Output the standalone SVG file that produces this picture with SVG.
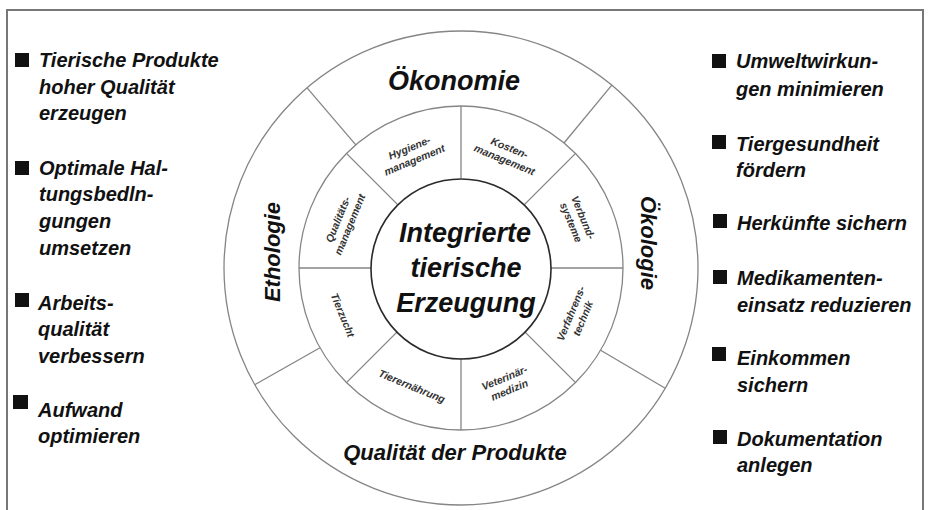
<svg xmlns="http://www.w3.org/2000/svg" width="932" height="510" viewBox="0 0 932 510">
<style>
.ring{fill:none;stroke:#858585;stroke-width:1.3}
.core{fill:none;stroke:#2a2a2a;stroke-width:1.6}
.div{stroke:#858585;stroke-width:1.3;fill:none}
.bt{font-family:"Liberation Sans",Arial,sans-serif;font-weight:bold;font-style:italic;fill:#111}
.side{font-size:20px}
.sec{font-size:22px}
.big{font-size:27px}
.sm{font-family:"Liberation Sans",Arial,sans-serif;font-style:italic;font-weight:bold;font-size:10.5px;fill:#333;text-anchor:middle}
.bul{fill:#111}
</style>
<rect x="0" y="0" width="932" height="510" fill="#fff"/>
<rect id="frame" x="7" y="10" width="916" height="520" fill="none" stroke="#777" stroke-width="2"/>

<g id="rings">
<circle class="ring" cx="461" cy="268" r="237"/>
<circle class="ring" cx="461" cy="268" r="162"/>
</g>

<g id="connectors">
<line class="div" x1="564.0" y1="143.0" x2="611.8" y2="85.1"/>
<line class="div" x1="355.8" y1="144.8" x2="307.1" y2="87.8"/>
<line class="div" x1="320.0" y1="347.8" x2="254.7" y2="384.7"/>
<line class="div" x1="600.6" y1="350.2" x2="665.2" y2="388.3"/>
<line class="div" x1="551" y1="268" x2="623" y2="268"/>
<line class="div" x1="524.6" y1="204.4" x2="575.6" y2="153.4"/>
<line class="div" x1="461" y1="178" x2="461" y2="106"/>
<line class="div" x1="397.4" y1="204.4" x2="346.4" y2="153.4"/>
<line class="div" x1="371" y1="268" x2="299" y2="268"/>
<line class="div" x1="397.4" y1="331.6" x2="346.4" y2="382.6"/>
<line class="div" x1="461" y1="358" x2="461" y2="430"/>
<line class="div" x1="524.6" y1="331.6" x2="575.6" y2="382.6"/>
</g>

<g id="center">
<circle class="core" cx="461" cy="269" r="90"/>
<text class="bt big" text-anchor="middle" x="465" y="242">Integrierte</text>
<text class="bt big" text-anchor="middle" x="466" y="277">tierische</text>
<text class="bt big" text-anchor="middle" x="466" y="312">Erzeugung</text>
</g>

<g id="oekonomie"><text class="bt" font-size="27" text-anchor="middle" x="454" y="90">Ökonomie</text></g>
<g id="ethologie"><text class="bt sec" text-anchor="middle" transform="translate(280,252) rotate(-90)">Ethologie</text></g>
<g id="oekologie"><text class="bt sec" text-anchor="middle" transform="translate(641,243) rotate(90)">Ökologie</text></g>
<g id="qualitaet"><text class="bt sec" text-anchor="middle" x="455" y="460">Qualität der Produkte</text></g>

<g id="hygiene" transform="translate(412,154) rotate(-22.5)"><text class="sm" y="-3">Hygiene-</text><text class="sm" y="10">management</text></g>
<g id="kosten" transform="translate(507,154) rotate(22.5)"><text class="sm" y="-3">Kosten-</text><text class="sm" y="10">management</text></g>
<g id="verbund" transform="translate(577,220) rotate(67.5)"><text class="sm" y="-3">Verbund-</text><text class="sm" y="10">systeme</text></g>
<g id="verfahren" transform="translate(577,316) rotate(-67.5)"><text class="sm" y="-3">Verfahrens-</text><text class="sm" y="10">technik</text></g>
<g id="veterinaer" transform="translate(507,384) rotate(-22.5)"><text class="sm" y="-3">Veterinär-</text><text class="sm" y="10">medizin</text></g>
<g id="tierernaehrung" transform="translate(412,386) rotate(22.5)"><text class="sm" y="4">Tierernährung</text></g>
<g id="tierzucht" transform="translate(343,315) rotate(67.5)"><text class="sm" y="4">Tierzucht</text></g>
<g id="qualitaetsmgmt" transform="translate(344,222) rotate(-67.5)"><text class="sm" y="-3">Qualitäts-</text><text class="sm" y="10">management</text></g>

<g id="left1"><rect class="bul" x="15" y="53" width="14" height="14"/>
<text class="bt side" x="39" y="67">Tierische Produkte</text><text class="bt side" x="39" y="94">hoher Qualität</text><text class="bt side" x="39" y="120">erzeugen</text></g>
<g id="left2"><rect class="bul" x="15" y="161" width="14" height="14"/>
<text class="bt side" x="39" y="175">Optimale Hal-</text><text class="bt side" x="39" y="201">tungsbedln-</text><text class="bt side" x="39" y="228">gungen</text><text class="bt side" x="39" y="255">umsetzen</text></g>
<g id="left3"><rect class="bul" x="15" y="293" width="14" height="14"/>
<text class="bt side" x="38" y="310">Arbeits-</text><text class="bt side" x="38" y="336">qualität</text><text class="bt side" x="38" y="363">verbessern</text></g>
<g id="left4"><rect class="bul" x="13" y="395" width="15" height="14"/>
<text class="bt side" x="38" y="417">Aufwand</text><text class="bt side" x="38" y="443">optimieren</text></g>

<g id="right1"><rect class="bul" x="712" y="54" width="14" height="14"/>
<text class="bt side" x="736" y="68">Umweltwirkun-</text><text class="bt side" x="736" y="96">gen minimieren</text></g>
<g id="right2"><rect class="bul" x="712" y="135" width="14" height="14"/>
<text class="bt side" x="736" y="151">Tiergesundheit</text><text class="bt side" x="736" y="177">fördern</text></g>
<g id="right3"><rect class="bul" x="713" y="214" width="14" height="14"/>
<text class="bt side" x="737" y="230">Herkünfte sichern</text></g>
<g id="right4"><rect class="bul" x="713" y="270" width="14" height="14"/>
<text class="bt side" x="737" y="285">Medikamenten-</text><text class="bt side" x="737" y="312">einsatz reduzieren</text></g>
<g id="right5"><rect class="bul" x="712" y="347" width="14" height="14"/>
<text class="bt side" x="737" y="365">Einkommen</text><text class="bt side" x="737" y="392">sichern</text></g>
<g id="right6"><rect class="bul" x="713" y="430" width="14" height="14"/>
<text class="bt side" x="737" y="446">Dokumentation</text><text class="bt side" x="737" y="472">anlegen</text></g>
</svg>
